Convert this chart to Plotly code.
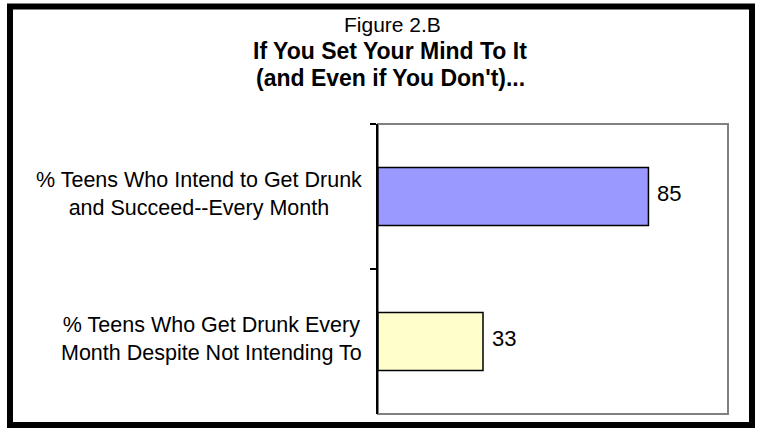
import plotly.graph_objects as go

categories = ["% Teens Who Intend to Get Drunk<br>and Succeed--Every Month",
              "% Teens Who Get Drunk Every<br>Month Despite Not Intending To"]
values = [85, 33]
bar_colors = ["#9999FF", "#FFFFCC"]
supertitle = "Figure 2.B"
title_lines = ["If You Set Your Mind To It", "(and Even if You Don't)..."]

W, H = 757, 431
L, R, T, B = 378, 29, 124, 17
PW, PH = W - L - R, H - T - B

def px(x):
    return (x - L) / PW

def py(y):
    return (H - B - y) / PH

FONT = "Liberation Sans, Arial, sans-serif"

fig = go.Figure(go.Bar(
    x=values, y=categories, orientation="h", width=0.4,
    marker=dict(color=bar_colors, line=dict(color="black", width=1.5)),
    hoverinfo="skip",
))

ann = []
# category labels
for c in categories:
    ann.append(dict(text=c, x=px(364), xref="paper", xanchor="right", y=c, yref="y",
                    yanchor="middle", align="center", showarrow=False, yshift=3,
                    font=dict(family=FONT, size=21.5, color="black")))
# value labels
for c, v in zip(categories, values):
    ann.append(dict(text=str(v), x=v, xref="x", xanchor="left", xshift=7, y=c, yref="y",
                    yanchor="middle", showarrow=False, yshift=3,
                    font=dict(family=FONT, size=22, color="black")))
# titles
ann.append(dict(text=supertitle, x=px(392), xref="paper", y=py(24), yref="paper",
                xanchor="center", yanchor="middle", showarrow=False,
                font=dict(family=FONT, size=21, color="black")))
for i, t in enumerate(title_lines):
    ann.append(dict(text="<b>" + t + "</b>", x=px(390), xref="paper", y=py(51 + 27 * i), yref="paper",
                    xanchor="center", yanchor="middle", showarrow=False,
                    font=dict(family=FONT, size=23, color="black")))

shapes = [
    dict(type="rect", xref="paper", yref="paper", x0=0, x1=1, y0=0, y1=1,
         line=dict(color="#808080", width=2), layer="below"),
    dict(type="rect", xref="paper", yref="paper", x0=px(10), x1=px(752), y0=py(425), y1=py(6.5),
         line=dict(color="black", width=6)),
]

fig.update_layout(
    width=W, height=H,
    margin=dict(l=L, r=R, t=T, b=B, pad=0),
    paper_bgcolor="white", plot_bgcolor="white",
    showlegend=False,
    xaxis=dict(range=[0, 110], showticklabels=False, showgrid=False, zeroline=False,
               showline=False, ticks=""),
    yaxis=dict(autorange="reversed", showticklabels=False, showgrid=False, zeroline=False,
               showline=True, linecolor="black", linewidth=1.5, ticks="outside",
               ticklen=6, tickcolor="black", tickwidth=1.5, tickson="boundaries"),
    annotations=ann, shapes=shapes,
)

fig.write_html("out.html", config={"displayModeBar": False},
               post_script="document.body.style.margin='0';document.body.style.overflow='hidden';")
